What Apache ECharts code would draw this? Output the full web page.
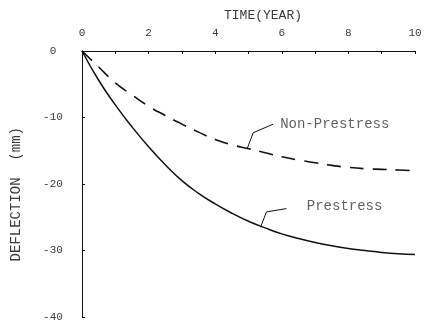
<!DOCTYPE html>
<html>
<head>
<meta charset="utf-8">
<script src="https://cdn.jsdelivr.net/npm/echarts@6/dist/echarts.min.js"></script>
<style>
html,body{margin:0;padding:0;background:#fff;}
#c{width:425px;height:332px;}
</style>
</head>
<body>
<div id="c"></div>
<script>
// Data (time in years, deflection in mm)
var time = [0, 0.5, 1, 1.5, 2, 2.5, 3, 3.5, 4, 4.5, 5, 5.5, 6, 6.5, 7, 7.5, 8, 8.5, 9, 9.5, 10];
var prestressDefl = [0, -4.4, -8.1, -11.4, -14.4, -17.1, -19.5, -21.4, -23.0, -24.4, -25.6, -26.6, -27.5, -28.2, -28.8, -29.3, -29.7, -30.0, -30.3, -30.5, -30.6];
var nonPrestressDefl = [0, -2.4, -4.8, -6.6, -8.3, -9.7, -11.0, -12.2, -13.3, -14.1, -14.7, -15.3, -15.9, -16.4, -16.8, -17.2, -17.5, -17.7, -17.8, -17.9, -18.0];
var xTicks = [0, 2, 4, 6, 8, 10];
var yTicks = [0, -10, -20, -30, -40];
// annotation leaders (data coordinates)
var nonPrestressLeader = [[4.96, -14.7], [5.14, -12.3], [5.74, -11.0]];
var prestressLeader = [[5.36, -26.5], [5.54, -24.2], [6.14, -23.7]];
var labels = [
  {name: 'Non-Prestress', at: [5.95, -11.0]},
  {name: 'Prestress', at: [6.75, -23.4]}
];

function zip(a, b) { return a.map(function (v, i) { return [v, b[i]]; }); }

var mono = 'Liberation Mono';
var ink = '#111';
var txt = '#3a3a3a';
var chart = echarts.init(document.getElementById('c'), null, {renderer: 'canvas'});
chart.setOption({
  animation: false,
  backgroundColor: '#fff',
  title: {
    text: 'TIME(YEAR)', left: 258, top: 4, textAlign: 'center',
    textStyle: {fontFamily: mono, fontSize: 13, fontWeight: 'normal', color: txt}
  },
  graphic: [{
    type: 'text', left: 9, top: 127, rotation: Math.PI / 2,
    style: {text: 'DEFLECTION  (mm)', font: '14px "Liberation Mono"', fill: txt}
  }],
  grid: {left: 82, right: 10, top: 51, bottom: 15},
  xAxis: {
    type: 'value', position: 'top', min: 0, max: 10, interval: 2,
    axisLine: {onZero: false, lineStyle: {color: ink, width: 1}},
    axisTick: {inside: true, length: 3, lineStyle: {color: ink}},
    minorTick: {show: true, splitNumber: 2, length: 3, lineStyle: {color: ink}},
    splitLine: {show: false},
    axisLabel: {margin: 12, fontFamily: mono, fontSize: 11, color: txt,
      formatter: function (v) { return xTicks.indexOf(v) >= 0 ? String(v) : ''; }}
  },
  yAxis: {
    type: 'value', min: -40, max: 0, interval: 10,
    axisLine: {show: true, onZero: false, lineStyle: {color: ink, width: 1}},
    axisTick: {show: true, inside: true, length: 3, lineStyle: {color: ink}},
    splitLine: {show: false},
    axisLabel: {margin: 29, align: 'center', fontFamily: mono, fontSize: 11, color: txt,
      formatter: function (v) { return yTicks.indexOf(v) >= 0 ? String(v) : ''; }}
  },
  series: [
    {type: 'line', data: zip(time, prestressDefl), smooth: true, showSymbol: false,
      lineStyle: {color: ink, width: 1.5}},
    {type: 'line', data: zip(time, nonPrestressDefl), smooth: true, showSymbol: false,
      lineStyle: {color: ink, width: 1.6, type: [14, 9]}},
    {type: 'line', data: nonPrestressLeader, showSymbol: false, lineStyle: {color: ink, width: 1}},
    {type: 'line', data: prestressLeader, showSymbol: false, lineStyle: {color: ink, width: 1}},
    {type: 'scatter', symbolSize: 0, data: labels.map(function (l) { return {name: l.name, value: l.at}; }),
      label: {show: true, position: 'right', distance: 0, formatter: '{b}',
        fontFamily: mono, fontSize: 14, color: txt}}
  ]
});
</script>
</body>
</html>
